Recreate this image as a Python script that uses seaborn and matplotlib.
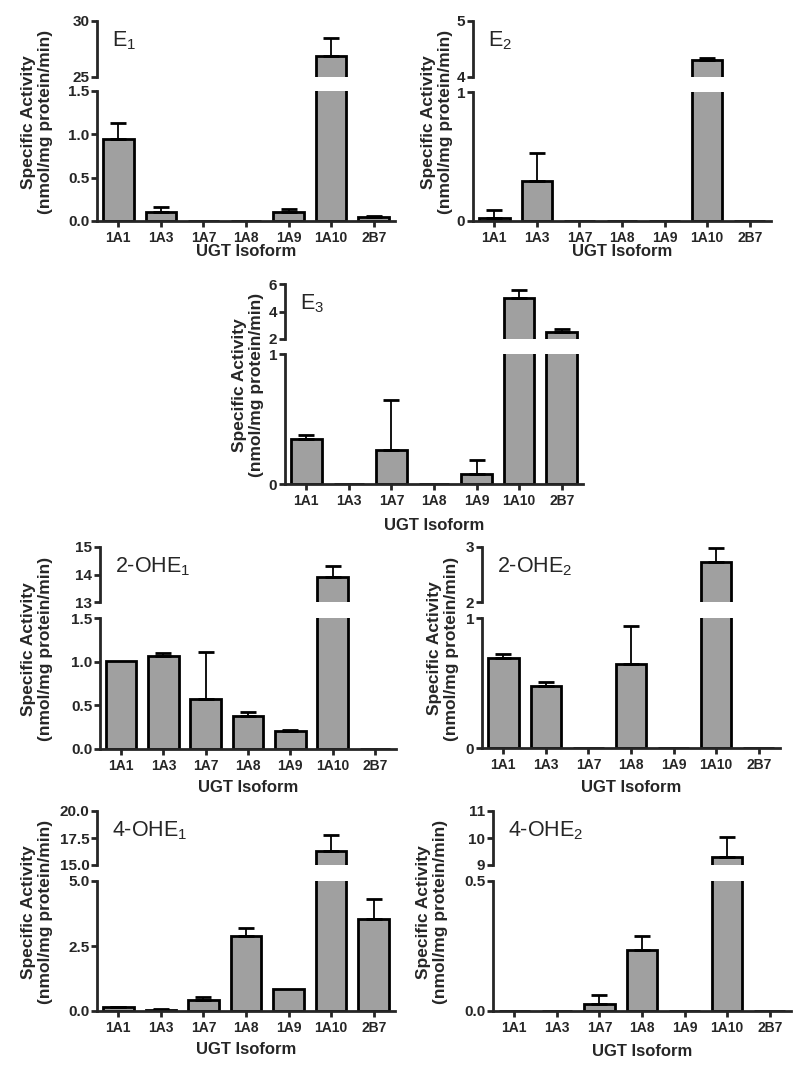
import numpy as np
import pandas as pd
import matplotlib
matplotlib.use('Agg')
import matplotlib.pyplot as plt
import seaborn as sns

# UGT isoforms on the x axis
isoforms = ['1A1', '1A3', '1A7', '1A8', '1A9', '1A10', '2B7']

# mean specific activity and upper error (nmol/mg protein/min)
e1_mean = [0.95, 0.10, 0.0, 0.0, 0.10, 26.9, 0.05]
e1_err = [0.18, 0.06, 0.0, 0.0, 0.04, 1.6, 0.005]

e2_mean = [0.02, 0.31, 0.0, 0.0, 0.0, 4.30, 0.0]
e2_err = [0.065, 0.22, 0.0, 0.0, 0.0, 0.04, 0.0]

e3_mean = [0.35, 0.0, 0.26, 0.0, 0.08, 4.96, 2.50]
e3_err = [0.025, 0.0, 0.39, 0.0, 0.105, 0.63, 0.22]

ohe1_2_mean = [1.01, 1.07, 0.57, 0.38, 0.21, 13.9, 0.0]
ohe1_2_err = [0.0, 0.03, 0.54, 0.04, 0.01, 0.40, 0.0]

ohe2_2_mean = [0.69, 0.48, 0.0, 0.65, 0.0, 2.72, 0.0]
ohe2_2_err = [0.035, 0.03, 0.0, 0.29, 0.0, 0.27, 0.0]

ohe1_4_mean = [0.15, 0.05, 0.44, 2.87, 0.83, 16.3, 3.53]
ohe1_4_err = [0.01, 0.01, 0.10, 0.31, 0.0, 1.5, 0.79]

ohe2_4_mean = [0.0, 0.0, 0.026, 0.236, 0.0, 9.28, 0.0]
ohe2_4_err = [0.0, 0.0, 0.037, 0.051, 0.0, 0.76, 0.0]

# broken y axis: tick labels of the lower and upper segments
e1_lo_ticks, e1_hi_ticks = ['0.0', '0.5', '1.0', '1.5'], ['25', '30']
e2_lo_ticks, e2_hi_ticks = ['0', '1'], ['4', '5']
e3_lo_ticks, e3_hi_ticks = ['0', '1'], ['2', '4', '6']
ohe1_2_lo_ticks, ohe1_2_hi_ticks = ['0.0', '0.5', '1.0', '1.5'], ['13', '14', '15']
ohe2_2_lo_ticks, ohe2_2_hi_ticks = ['0', '1'], ['2', '3']
ohe1_4_lo_ticks, ohe1_4_hi_ticks = ['0.0', '2.5', '5.0'], ['15.0', '17.5', '20.0']
ohe2_4_lo_ticks, ohe2_4_hi_ticks = ['0.0', '0.5'], ['9', '10', '11']

sns.set_style('ticks')
plt.rcParams['font.family'] = ['Liberation Sans', 'DejaVu Sans']
plt.rcParams['mathtext.fontset'] = 'custom'
plt.rcParams['mathtext.rm'] = 'Liberation Sans'
plt.rcParams['mathtext.it'] = 'Liberation Sans'

W, H = 800, 1065
fig = plt.figure(figsize=(8, 10.65), dpi=100)

BAR = '#a0a0a0'


def px_axes(x0, x1, ytop, ybot):
    return fig.add_axes([x0 / W, 1 - ybot / H, (x1 - x0) / W, (ybot - ytop) / H])


def panel(title, mean, err, lo_ticks, hi_ticks, x0, x1, hi_top, hi_bot, lo_top, lo_bot,
          ylab_x, xlab_y):
    df = pd.DataFrame({'isoform': isoforms, 'activity': mean})
    mean = np.array(mean)
    err = np.array(err)
    mask = err > 0
    pos = np.arange(len(isoforms))
    ax_hi = px_axes(x0, x1, hi_top, hi_bot)
    ax_lo = px_axes(x0, x1, lo_top, lo_bot)
    for ax in (ax_hi, ax_lo):
        sns.barplot(data=df, x='isoform', y='activity', color=BAR, saturation=1,
                    edgecolor='black', linewidth=2, width=0.72, errorbar=None, ax=ax)
        ax.errorbar(pos[mask], mean[mask], yerr=[np.zeros(mask.sum()), err[mask]],
                    fmt='none', ecolor='black', elinewidth=1.3, capsize=6, capthick=2,
                    zorder=1)
        ax.set(xlabel='', ylabel='')
        ax.set_xlim(-0.5, 6.5)
        for s in ('top', 'right'):
            ax.spines[s].set_visible(False)
        for s in ('left', 'bottom'):
            ax.spines[s].set_linewidth(2)
        ax.tick_params(width=2, length=4)
        ax.tick_params(axis='x', labelsize=10, pad=3.5)
        ax.tick_params(axis='y', labelsize=11, pad=1.5)
        ax.patch.set_alpha(0)

    ax_lo.set_ylim(0, float(lo_ticks[-1]))
    ax_lo.set_yticks([float(t) for t in lo_ticks])
    ax_lo.set_yticklabels(lo_ticks, fontweight='bold')
    ax_lo.set_xticks(pos)
    ax_lo.set_xticklabels(isoforms, fontweight='bold')

    ax_hi.set_ylim(float(hi_ticks[0]), float(hi_ticks[-1]))
    ax_hi.set_yticks([float(t) for t in hi_ticks])
    ax_hi.set_yticklabels(hi_ticks, fontweight='bold')
    ax_hi.spines['bottom'].set_visible(False)
    ax_hi.tick_params(axis='x', bottom=False, labelbottom=False)

    fig.text((x0 + 15) / W, 1 - (hi_top + 25) / H, title, fontsize=15.5,
             va='baseline', ha='left')
    fig.text(ylab_x / W, 1 - ((hi_top + lo_bot) / 2 + 1) / H,
             'Specific Activity\n(nmol/mg protein/min)', rotation=90,
             fontsize=12.5, fontweight='bold', ha='center', va='center',
             linespacing=1.1)
    fig.text((x0 + x1) / 2 / W, 1 - xlab_y / H, 'UGT Isoform', fontsize=12,
             fontweight='bold', ha='center', va='center')


panel('E$_1$', e1_mean, e1_err, e1_lo_ticks, e1_hi_ticks,
      97, 395, 21, 77, 91, 221, 37, 251)
panel('E$_2$', e2_mean, e2_err, e2_lo_ticks, e2_hi_ticks,
      473, 771, 21, 77, 92, 221, 437, 251)
panel('E$_3$', e3_mean, e3_err, e3_lo_ticks, e3_hi_ticks,
      285, 583, 284, 339, 354, 484, 248, 525)
panel('2-OHE$_1$', ohe1_2_mean, ohe1_2_err, ohe1_2_lo_ticks, ohe1_2_hi_ticks,
      100, 396, 547, 602, 618, 749, 37, 787)
panel('2-OHE$_2$', ohe2_2_mean, ohe2_2_err, ohe2_2_lo_ticks, ohe2_2_hi_ticks,
      482, 780, 547, 602, 618, 748, 443, 788)
panel('4-OHE$_1$', ohe1_4_mean, ohe1_4_err, ohe1_4_lo_ticks, ohe1_4_hi_ticks,
      97, 395, 811, 865, 881, 1011, 37, 1050)
panel('4-OHE$_2$', ohe2_4_mean, ohe2_4_err, ohe2_4_lo_ticks, ohe2_4_hi_ticks,
      493, 791, 811, 865, 881, 1011, 432, 1052)

fig.savefig('out.png', dpi=100)
